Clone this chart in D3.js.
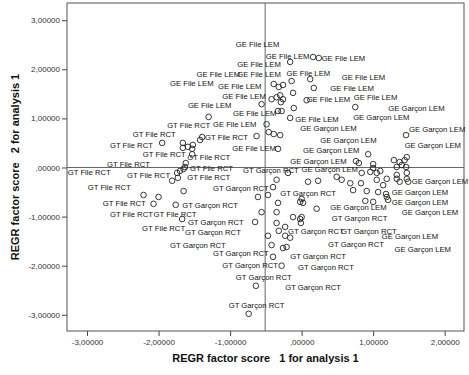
<!DOCTYPE html>
<html>
<head>
<meta charset="utf-8">
<script src="https://cdnjs.cloudflare.com/ajax/libs/d3/7.8.5/d3.min.js"></script>
<style>
  body { margin: 0; background: #fff; }
  svg { font-family: "Liberation Sans", Arial, sans-serif; }
  .pointLabel { font-size: 7.7px; fill: #111; }
  .tick text { font-size: 8px; fill: #333; }
  .aText { font-size: 11px; font-weight: bold; fill: #111; white-space: pre; }
</style>
</head>
<body>
<div id="scatter"></div>
<script>
// factor scores (factor 1, factor 2) per group
var geFileLem = [[0.16,2.25],[0.24,2.23],[-0.16,2.15],[0.12,1.80],[-0.39,1.70],[-0.32,1.64],[-0.26,1.68],[-0.14,1.76],
  [0.17,1.62],[-0.42,1.39],[-0.35,1.43],[-0.30,1.47],[-0.26,1.39],[-0.29,1.33],[-0.12,1.52],[0.07,1.37],[-0.56,1.29],
  [-0.33,1.15],[-0.28,1.15],[-0.11,1.21],[-0.16,1.01],[-0.49,0.88],[0.75,1.23],[-1.30,1.03],[-0.46,0.72],[-0.39,0.68],
  [-0.30,0.66],[-0.63,0.64],[-1.39,0.62],[-0.33,0.38]];
var geGarconLem = [[1.46,0.66],[0.93,0.27],[0.76,0.13],[0.80,0.09],[1.00,0.07],[1.29,0.15],[1.37,0.11],[1.44,0.15],
  [1.47,0.21],[1.40,0.05],[1.46,0.01],[1.00,-0.01],[1.33,0.01],[0.49,-0.19],[0.56,-0.25],[0.84,-0.11],[0.96,-0.09],
  [1.05,-0.11],[1.10,-0.07],[1.05,-0.25],[1.19,-0.23],[1.33,-0.15],[1.33,-0.23],[1.47,-0.11],[1.47,-0.23],[1.49,-0.29],
  [1.37,-0.29],[0.83,-0.32],[0.23,-0.27],[0.72,-0.46],[0.91,-0.48],[1.07,-0.50],[1.18,-0.54],[1.19,-0.60],[0.00,-0.64],
  [0.21,-0.84],[0.89,-0.68],[0.00,-1.01],[1.00,-0.70],[1.14,-0.36],[1.21,-0.66]];
var gtGarconRct = [[-0.19,-0.11],[-0.35,-0.25],[0.09,-0.29],[0.68,-0.32],[-0.40,-0.40],[-0.47,-0.56],[-0.61,-0.60],
  [-0.33,-0.72],[-0.02,-0.70],[0.02,-0.72],[-0.56,-0.91],[-0.35,-0.91],[-0.65,-1.11],[-0.12,-1.01],[-0.02,-1.05],
  [-0.01,-1.13],[-0.35,-1.13],[-0.23,-1.21],[-0.32,-1.29],[-0.23,-1.39],[-0.16,-1.43],[-0.47,-1.39],[-0.42,-1.58],
  [-0.26,-1.64],[-0.21,-1.62],[-0.40,-1.82],[-0.28,-2.00],[-0.64,-2.41],[-0.74,-2.98]];
var gtFileRct = [[-1.95,0.50],[-1.66,0.50],[-1.59,0.42],[-1.52,0.46],[-1.66,0.40],[-1.53,0.38],[-1.42,0.56],[-1.53,0.27],
  [-1.62,0.09],[-1.63,0.01],[-1.65,-0.03],[-1.74,-0.11],[-1.70,-0.07],[-1.81,-0.27],[-1.73,-0.21],[-1.65,-0.48],
  [-2.21,-0.56],[-2.00,-0.60],[-2.07,-0.74],[-1.76,-0.76],[-1.67,-1.05]];

// case labels: where each label sits (left edge, middle) in score units
var geFileLemLabels = [[-0.92,2.51],[-0.50,2.27],[0.28,2.23],[-0.90,2.10],[-1.47,1.90],[-0.90,1.90],[-0.21,1.92],
  [0.56,1.84],[0.40,1.62],[-1.84,1.72],[-1.17,1.66],[0.07,1.39],[0.73,1.43],[-1.11,1.45],[-1.59,1.27],[-0.96,1.11],
  [-0.09,0.99],[-1.24,0.88],[-0.97,0.40]];
var geGarconLemLabels = [[1.21,1.21],[0.72,1.03],[-0.02,0.80],[1.50,0.78],[1.44,0.46],[0.26,0.56],[0.02,0.36],
  [-0.16,0.13],[0.00,-0.03],[1.54,-0.29],[1.26,-0.50],[0.40,-0.82],[1.26,-0.70],[1.40,-0.91],[1.12,-1.41],[1.30,-1.66]];
var gtGarconRctLabels = [[-0.82,-0.05],[-0.30,-0.52],[-1.24,-0.42],[-1.67,-0.76],[0.42,-1.03],[-1.59,-1.11],
  [-1.63,-1.31],[-0.19,-1.29],[0.55,-1.29],[-1.84,-1.58],[0.37,-1.56],[-1.24,-1.74],[-0.16,-1.80],[-1.11,-2.00],
  [-0.05,-2.04],[-0.92,-2.23],[-0.23,-2.45],[-1.02,-2.80]];
var gtFileRctLabels = [[-1.88,0.86],[-2.36,0.68],[-2.68,0.46],[-1.35,0.62],[-2.22,0.27],[-1.60,0.21],[-2.72,0.07],
  [-1.56,-0.01],[-3.27,-0.09],[-2.44,-0.15],[-1.60,-0.21],[-2.99,-0.40],[-2.78,-0.72],[-2.68,-0.95],[-2.07,-0.95],
  [-2.23,-1.23]];

var groupNames = ["GE File LEM", "GE Garçon LEM", "GT Garçon RCT", "GT File RCT"];

var xTicks = [-3, -2, -1, 0, 1, 2];
var yTicks = [-3, -2, -1, 0, 1, 2, 3];
var refX = -0.51;
var refY = 0;
var xTitle = "REGR factor score   1 for analysis 1";
var yTitle = "REGR factor score   2 for analysis 1";

var svgWidth = 469;
var svgHeight = 375;
var plot = { left: 67, top: 3, right: 464, bottom: 331 };

var svg = d3.select("#scatter")
  .append("svg")
  .attr("width", svgWidth)
  .attr("height", svgHeight);

var xScale = d3.scaleLinear()
  .domain([-3.28, 2.27])
  .range([plot.left, plot.right]);

var yScale = d3.scaleLinear()
  .domain([-3.33, 3.35])
  .range([plot.bottom, plot.top]);

// SPSS style numbers: comma decimal, no leading zero for 0
function fmt(d) {
  if (d === 0) return ",00000";
  return (d < 0 ? "-" : "") + Math.abs(d).toFixed(5).replace(".", ",");
}

var xAxis = svg.append("g")
  .attr("transform", `translate(0, ${plot.bottom})`)
  .call(d3.axisBottom(xScale).tickValues(xTicks).tickSize(5).tickPadding(3).tickFormat(fmt));
xAxis.select(".domain").remove();

var yAxis = svg.append("g")
  .attr("transform", `translate(${plot.left}, 0)`)
  .call(d3.axisLeft(yScale).tickValues(yTicks).tickSize(5).tickPadding(2).tickFormat(fmt));
yAxis.select(".domain").remove();

svg.selectAll(".tick line").attr("stroke", "#444");

// frame
svg.append("rect")
  .attr("x", plot.left)
  .attr("y", plot.top)
  .attr("width", plot.right - plot.left)
  .attr("height", plot.bottom - plot.top)
  .attr("fill", "none")
  .attr("stroke", "#555")
  .attr("stroke-width", 1);

// reference lines
svg.append("line")
  .attr("x1", xScale(refX)).attr("x2", xScale(refX))
  .attr("y1", plot.top).attr("y2", plot.bottom)
  .attr("stroke", "#666");
svg.append("line")
  .attr("x1", plot.left).attr("x2", plot.right)
  .attr("y1", yScale(refY)).attr("y2", yScale(refY))
  .attr("stroke", "#666");

var allPoints = [].concat(geFileLem, geGarconLem, gtGarconRct, gtFileRct);

svg.selectAll(".pt")
  .data(allPoints)
  .enter()
  .append("circle")
  .attr("class", "pt")
  .attr("cx", d => xScale(d[0]))
  .attr("cy", d => yScale(d[1]))
  .attr("r", 2.8)
  .attr("fill", "none")
  .attr("stroke", "#222")
  .attr("stroke-width", 0.9);

var labelSets = [geFileLemLabels, geGarconLemLabels, gtGarconRctLabels, gtFileRctLabels];
var allLabels = [];
labelSets.forEach(function(set, i) {
  set.forEach(function(d) { allLabels.push({ name: groupNames[i], x: d[0], y: d[1] }); });
});

svg.selectAll(".pointLabel")
  .data(allLabels)
  .enter()
  .append("text")
  .attr("class", "pointLabel")
  .attr("x", d => xScale(d.x))
  .attr("y", d => yScale(d.y))
  .attr("dy", "0.35em")
  .text(d => d.name);

// axis titles
svg.append("text")
  .attr("class", "aText")
  .attr("x", (plot.left + plot.right) / 2)
  .attr("y", 362)
  .attr("text-anchor", "middle")
  .text(xTitle);

svg.append("text")
  .attr("class", "aText")
  .attr("transform", `translate(19, ${(plot.top + plot.bottom) / 2}) rotate(-90)`)
  .attr("text-anchor", "middle")
  .text(yTitle);
</script>
</body>
</html>
